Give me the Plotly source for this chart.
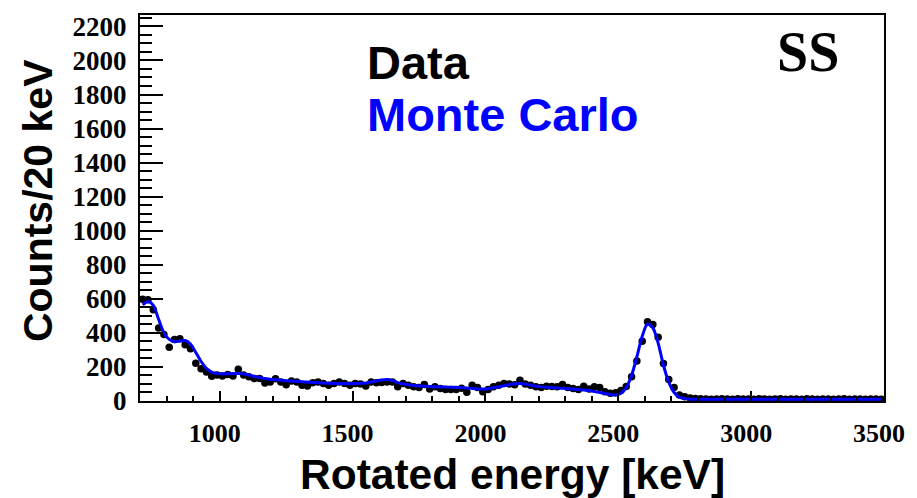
import numpy as np
import plotly.graph_objects as go

# Bin centres (20 keV bins, 700-3500 keV)
energy = list(range(710, 3500, 20))

data_counts = [
    598, 594, 536, 429, 390, 316, 361, 365, 330, 307,
    221, 190, 171, 146, 152, 147, 156, 147, 186, 152,
    142, 132, 132, 105, 112, 130, 112, 95, 118, 112,
    93, 88, 107, 112, 103, 93, 103, 112, 103, 93,
    103, 100, 88, 112, 107, 109, 112, 112, 83, 103,
    93, 83, 80, 97, 70, 83, 74, 68, 68, 68,
    75, 51, 93, 80, 54, 68, 83, 93, 103, 100,
    95, 122, 100, 93, 83, 80, 87, 85, 83, 97,
    80, 74, 68, 87, 70, 83, 80, 55, 45, 48,
    62, 85, 142, 235, 351, 466, 449, 375, 220, 127,
    80, 35, 25, 18, 14, 13, 12, 11, 12, 13,
    12, 11, 13, 12, 12, 11, 13, 12, 11, 12,
    13, 11, 12, 12, 11, 13, 12, 11, 12, 12,
    11, 12, 13, 11, 12, 12, 11, 12, 12, 11,
]

mc_counts = [
    565, 585, 562, 480, 400, 362, 348, 352, 355, 335,
    285, 232, 192, 170, 162, 160, 160, 160, 162, 160,
    152, 145, 138, 132, 128, 125, 122, 119, 117, 115,
    113, 111, 109, 107, 105, 104, 103, 103, 102, 102,
    103, 104, 106, 112, 118, 123, 126, 120, 108, 100,
    95, 91, 88, 87, 85, 84, 83, 82, 81, 80,
    79, 77, 74, 71, 70, 72, 78, 84, 90, 96,
    101, 103, 99, 93, 87, 83, 81, 79, 77, 75,
    72, 70, 68, 65, 61, 56, 50, 44, 38, 35,
    45, 80, 150, 260, 380, 452, 430, 340, 210, 110,
    50, 22, 14, 11, 10, 10, 10, 10, 10, 10,
    10, 10, 10, 10, 10, 10, 10, 10, 10, 10,
    10, 10, 10, 10, 10, 10, 10, 10, 10, 10,
    10, 10, 10, 10, 10, 10, 10, 10, 10, 10,
]

assert len(energy) == len(data_counts) == len(mc_counts)

x_range = [700, 3500]
y_range = [0, 2267]

fig = go.Figure()
fig.add_trace(go.Scatter(
    x=energy, y=data_counts, mode="markers",
    marker=dict(color="black", size=7.5),
    name="Data", showlegend=False,
))
fig.add_trace(go.Scatter(
    x=energy, y=mc_counts, mode="lines",
    line=dict(color="#0000FF", width=3, shape="spline", smoothing=0.8),
    name="Monte Carlo", showlegend=False,
))

serif_bold = dict(family="Liberation Serif", size=26, color="black", weight="bold")
sans_bold = "Liberation Sans"

fig.update_layout(
    width=917, height=498,
    margin=dict(l=140, r=31, t=12, b=97),
    paper_bgcolor="white", plot_bgcolor="white",
    xaxis=dict(
        range=x_range, showgrid=False, zeroline=False,
        showline=True, linecolor="black", linewidth=2, mirror=True,
        ticks="inside", ticklen=10, tickwidth=2, tickcolor="black",
        tick0=0, dtick=500,
        minor=dict(dtick=100, ticks="inside", ticklen=5, tickwidth=1.5, tickcolor="black"),
        tickfont=serif_bold, ticklabelshift=-5, ticklabelstandoff=8,
    ),
    yaxis=dict(
        range=y_range, showgrid=False, zeroline=False,
        showline=True, linecolor="black", linewidth=2, mirror=True,
        ticks="inside", ticklen=23, tickwidth=2, tickcolor="black",
        tick0=0, dtick=200,
        minor=dict(dtick=50, ticks="inside", ticklen=12, tickwidth=1.5, tickcolor="black"),
        tickfont=dict(serif_bold, size=27), ticklabelstandoff=6,
    ),
    annotations=[
        dict(text="Rotated energy [keV]", xref="paper", yref="paper",
             x=0.5, y=0, yshift=-73, xanchor="center", yanchor="middle",
             showarrow=False, font=dict(family=sans_bold, size=42.5, color="black", weight="bold")),
        dict(text="Counts/20 keV", xref="paper", yref="paper",
             x=0, xshift=-102, y=0.518, textangle=-90, xanchor="center", yanchor="middle",
             showarrow=False, font=dict(family=sans_bold, size=41, color="black", weight="bold")),
        dict(text="Data", xref="paper", yref="paper",
             x=0.302, y=0.878, xanchor="left", yanchor="middle",
             showarrow=False, font=dict(family=sans_bold, size=47, color="black", weight="bold")),
        dict(text="Monte Carlo", xref="paper", yref="paper",
             x=0.302, y=0.742, xanchor="left", yanchor="middle",
             showarrow=False, font=dict(family=sans_bold, size=47, color="#0000FF", weight="bold")),
        dict(text="SS", xref="paper", yref="paper",
             x=0.898, y=0.905, xanchor="center", yanchor="middle",
             showarrow=False, font=dict(family="Liberation Serif", size=56, color="black", weight="bold")),
    ],
)

fig.write_html("out.html")
